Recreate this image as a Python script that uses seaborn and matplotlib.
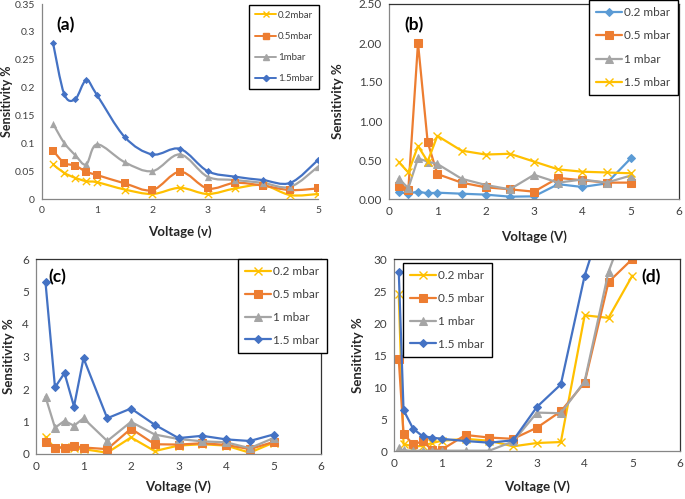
import numpy as np
import pandas as pd
import matplotlib
matplotlib.use("Agg")
import matplotlib.pyplot as plt
import seaborn as sns
from matplotlib.path import Path
from matplotlib.patches import PathPatch
from matplotlib.lines import Line2D

sns.set_theme(style="white")
plt.rcParams['font.family'] = ['Lato', 'DejaVu Sans']

# ---------------- data ----------------
volt = [0.2, 0.4, 0.6, 0.8, 1, 1.5, 2, 2.5, 3, 3.5, 4, 4.5, 5]

# panel (a)
a_labels = ["0.2mbar", "0.5mbar", "1mbar", "1.5mbar"]
a_02 = [0.062, 0.047, 0.038, 0.032, 0.030, 0.017, 0.009, 0.020, 0.009, 0.019, 0.025, 0.007, 0.009]
a_05 = [0.087, 0.065, 0.060, 0.049, 0.043, 0.028, 0.016, 0.049, 0.019, 0.029, 0.024, 0.016, 0.019]
a_1 = [0.135, 0.101, 0.079, 0.062, 0.098, 0.066, 0.050, 0.080, 0.040, 0.034, 0.029, 0.022, 0.058]
a_15 = [0.280, 0.189, 0.179, 0.213, 0.186, 0.111, 0.080, 0.090, 0.050, 0.040, 0.034, 0.029, 0.070]

# panel (b)
b_labels = ["0.2 mbar", "0.5 mbar", "1 mbar", "1.5 mbar"]
b_02 = [0.086, 0.070, 0.094, 0.073, 0.081, 0.068, 0.056, 0.030, 0.034, 0.19, 0.154, 0.20, 0.52]
b_05 = [0.167, 0.12, 2.00, 0.73, 0.32, 0.21, 0.15, 0.124, 0.094, 0.27, 0.24, 0.21, 0.21]
b_1 = [0.26, 0.14, 0.52, 0.48, 0.45, 0.26, 0.18, 0.124, 0.31, 0.21, 0.25, 0.21, 0.30]
b_15 = [0.475, 0.34, 0.68, 0.48, 0.81, 0.62, 0.57, 0.58, 0.48, 0.38, 0.35, 0.34, 0.33]

# panel (c)
c_labels = ["0.2 mbar", "0.5 mbar", "1 mbar", "1.5 mbar"]
c_02 = [0.52, 0.17, 0.22, 0.18, 0.15, 0.04, 0.51, 0.09, 0.26, 0.30, 0.26, 0.04, 0.35]
c_05 = [0.38, 0.20, 0.20, 0.24, 0.20, 0.15, 0.78, 0.30, 0.29, 0.33, 0.28, 0.15, 0.37]
c_1 = [1.76, 0.81, 1.02, 0.87, 1.10, 0.40, 0.99, 0.60, 0.46, 0.39, 0.36, 0.18, 0.49]
c_15 = [5.28, 2.05, 2.49, 1.46, 2.95, 1.10, 1.40, 0.90, 0.49, 0.56, 0.45, 0.40, 0.60]

# panel (d)
d_volt = [0.1, 0.2, 0.4, 0.6, 0.8, 1, 1.5, 2, 2.5, 3, 3.5, 4, 4.5, 5]
d_labels = ["0.2 mbar", "0.5 mbar", "1 mbar", "1.5 mbar"]
d_02 = [24.5, 1.1, 0.7, 0.8, 1.25, 1.6, 1.9, 1.6, 0.73, 1.25, 1.4, 21.2, 20.8, 27.4]
d_05 = [14.3, 2.7, 1.04, 1.5, 0.2, 0.2, 2.5, 2.1, 1.9, 3.65, 6.2, 10.7, 26.4, 30.0]
d_1 = [0.4, 0.1, 0.05, 0.05, 0.05, 0.05, 0.05, 0.05, 1.5, 6.0, 5.9, 10.9, 28.0, 38.0]
d_15 = [28.0, 6.4, 3.5, 2.3, 2.1, 1.9, 1.56, 1.3, 1.67, 6.9, 10.4, 27.4, 39.0, None]

# ---------------- styles ----------------
BLUE = "#4472C4"
LBLUE = "#5B9BD5"
ORANGE = "#ED7D31"
GREY = "#A5A5A5"
YELLOW = "#FFC000"
AXC = "#868686"

fig = plt.figure(figsize=(6.85, 4.99), dpi=100)

def make_ax(left, top, right, bottom, box=True, labelsize=8.5):
    W, H = 685.0, 499.0
    ax = fig.add_axes([left / W, 1 - bottom / H, (right - left) / W, (bottom - top) / H])
    for s in ["left", "bottom"]:
        ax.spines[s].set_color(AXC)
        ax.spines[s].set_linewidth(0.9)
    for s in ["top", "right"]:
        if box:
            ax.spines[s].set_color("#333333")
            ax.spines[s].set_linewidth(0.9)
        else:
            ax.spines[s].set_visible(False)
    ax.tick_params(axis="both", direction="out", length=3, width=0.8, color=AXC,
                   labelsize=labelsize, labelcolor="#404040", pad=2)
    ax.grid(False)
    return ax

def series(ax, x, y, color, marker, label, ms, lw=1.6, mew=None):
    df = pd.DataFrame({"x": x, "y": y}).dropna()
    kw = dict(marker=marker, markersize=ms, markeredgecolor=color, markerfacecolor=color)
    if mew is not None:
        kw["markeredgewidth"] = mew
    sns.lineplot(data=df, x="x", y="y", color=color, linewidth=lw, label=label,
                 ax=ax, estimator=None, sort=False, **kw)

def finish(ax, xlabel, ylabel, x_cy, y_cx, fs=9.5):
    # x_cy, y_cx: centre of the axis labels in figure pixels
    ax.set_xlabel(xlabel, fontsize=9.5, fontweight="bold", color="#262626")
    ax.set_ylabel(ylabel, fontsize=fs, fontweight="bold", color="#262626")
    ax.xaxis.label.set_va("center")
    ax.yaxis.label.set_va("center")
    bb = ax.get_position()
    W, H = 685.0, 499.0
    fy = 1 - x_cy / H
    fx = y_cx / W
    ax.xaxis.set_label_coords(0.5, (fy - bb.y0) / bb.height)
    ax.yaxis.set_label_coords((fx - bb.x0) / bb.width, 0.5)

def legend(ax, loc_px, fs, spacing, handles=None):
    W, H = 685.0, 499.0
    kw = {}
    if handles is not None:
        kw["handles"] = handles
    leg = ax.legend(loc="upper left", bbox_to_anchor=(loc_px[0] / W, 1 - loc_px[1] / H),
                    bbox_transform=fig.transFigure, frameon=True, fancybox=False,
                    edgecolor="black", fontsize=fs, labelspacing=spacing,
                    handlelength=2.2, handletextpad=0.2, borderpad=0.6,
                    borderaxespad=0, framealpha=1, **kw)
    leg.get_frame().set_linewidth(1.0)
    for t in leg.get_texts():
        t.set_color("#404040")
    return leg

def smooth_patch(ax, x, y, color, lw=1.6):
    P = np.column_stack([x, y]).astype(float)
    n = len(P)
    verts = [P[0]]
    codes = [Path.MOVETO]
    for i in range(n - 1):
        p_prev = P[i - 1] if i > 0 else P[i]
        p_next2 = P[i + 2] if i + 2 < n else P[i + 1]
        c1 = P[i] + (P[i + 1] - p_prev) / 6.0
        c2 = P[i + 1] - (p_next2 - P[i]) / 6.0
        verts += [c1, c2, P[i + 1]]
        codes += [Path.CURVE4] * 3
    patch = PathPatch(Path(verts, codes), facecolor="none", edgecolor=color,
                      linewidth=lw, transform=ax.transData, zorder=2)
    ax.add_patch(patch)

# ---------------- panel (a) ----------------
ax = make_ax(42, 4, 318, 199, box=False, labelsize=7.5)
a_styles = [(a_02, YELLOW, "x", 5), (a_05, ORANGE, "s", 5), (a_1, GREY, "^", 5), (a_15, BLUE, "D", 3.5)]
handles = []
for (vals, col, mk, ms), lab in zip(a_styles, a_labels):
    df = pd.DataFrame({"x": volt, "y": vals})
    sns.scatterplot(data=df, x="x", y="y", color=col, marker=mk, s=ms ** 2 * 1.1,
                    edgecolor=col, linewidth=1.0 if mk == "x" else 0, ax=ax, zorder=3, legend=False)
    smooth_patch(ax, volt, vals, col)
    handles.append(Line2D([], [], color=col, lw=1.4, marker=mk, ms=ms * 0.9,
                          markerfacecolor=col, markeredgecolor=col, label=lab))
ax.set_xlim(0, 5)
ax.set_ylim(0, 0.35)
ax.set_xticks([0, 1, 2, 3, 4, 5])
ax.set_yticks([0, 0.05, 0.1, 0.15, 0.2, 0.25, 0.3, 0.35])
ax.set_yticklabels(["0", "0.05", "0.1", "0.15", "0.2", "0.25", "0.3", "0.35"])
finish(ax, "Voltage (v)", "Sensitivity %", 232, 7, fs=9)
legend(ax, (249, 5), 7, 1.25, handles=handles)

# ---------------- panel (b) ----------------
ax = make_ax(389, 4, 679, 199)
for vals, col, mk, ms, lab in [(b_02, LBLUE, "D", 4, b_labels[0]), (b_05, ORANGE, "s", 5.5, b_labels[1]),
                               (b_1, GREY, "^", 5.5, b_labels[2]), (b_15, YELLOW, "x", 6, b_labels[3])]:
    series(ax, volt, vals, col, mk, lab, ms, mew=1.0 if mk == "x" else None)
ax.set_xlim(0, 6)
ax.set_ylim(0, 2.5)
ax.set_xticks(range(7))
ax.set_yticks([0, 0.5, 1.0, 1.5, 2.0, 2.5])
ax.set_yticklabels(["0.00", "0.50", "1.00", "1.50", "2.00", "2.50"])
finish(ax, "Voltage (V)", "Sensitivity %", 237, 338)
legend(ax, (589, 0), 8.5, 1.05)

# ---------------- panel (c) ----------------
ax = make_ax(36, 259, 321, 454)
for vals, col, mk, ms, lab in [(c_02, YELLOW, "x", 6, c_labels[0]), (c_05, ORANGE, "s", 5.5, c_labels[1]),
                               (c_1, GREY, "^", 5.5, c_labels[2]), (c_15, BLUE, "D", 4, c_labels[3])]:
    series(ax, volt, vals, col, mk, lab, ms, mew=1.0 if mk == "x" else None)
ax.set_xlim(0, 6)
ax.set_ylim(0, 6)
ax.set_xticks(range(7))
ax.set_yticks(range(7))
finish(ax, "Voltage (V)", "Sensitivity %", 487, 9)
legend(ax, (238, 259), 8.5, 1.0)

# ---------------- panel (d) ----------------
ax = make_ax(394, 259, 680, 451)
for vals, col, mk, ms, lab in [(d_02, YELLOW, "x", 6, d_labels[0]), (d_05, ORANGE, "s", 5.5, d_labels[1]),
                               (d_1, GREY, "^", 5.5, d_labels[2]), (d_15, BLUE, "D", 4, d_labels[3])]:
    series(ax, d_volt, vals, col, mk, lab, ms, mew=1.0 if mk == "x" else None)
ax.set_xlim(0, 6)
ax.set_ylim(0, 30)
ax.set_xticks(range(7))
ax.set_yticks(range(0, 31, 5))
finish(ax, "Voltage (V)", "Sensitivity %", 487, 358)
legend(ax, (403, 263), 8.5, 1.0)

# panel letters
for txt, (px, py) in [("(a)", (66, 25)), ("(b)", (414, 25)), ("(c)", (57, 277)), ("(d)", (651, 277))]:
    fig.text(px / 685, 1 - py / 499, txt, fontsize=12.5, fontweight="bold",
             ha="center", va="center", color="black")

fig.savefig("out.png", dpi=100)
